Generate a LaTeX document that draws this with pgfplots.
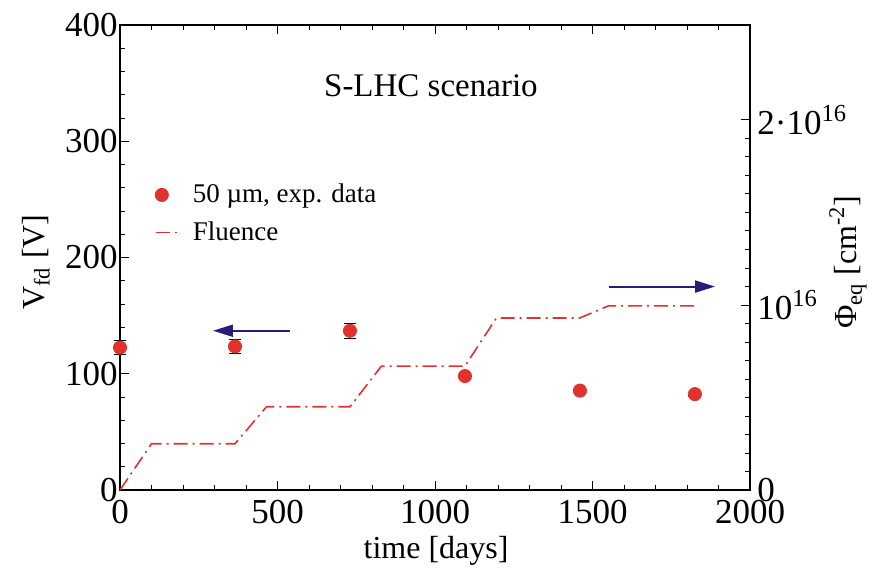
\documentclass[border=0pt]{standalone}
\usepackage{pgfplots}
\pgfplotsset{compat=1.18}
\usepackage{fontspec}
\setmainfont{Liberation Serif}
\usetikzlibrary{arrows.meta}
\definecolor{datared}{RGB}{225,50,45}
\definecolor{navyarrow}{RGB}{40,30,120}
\pgfplotsset{
  common/.style={
    scale only axis, width=315pt, height=232.5pt,
    xmin=0, xmax=2000,
    tick align=inside,
    major tick length=4.5pt, minor tick length=2.5pt,
    axis line style={line width=1pt},
    every tick/.style={black, line width=0.5pt},
    tick label style={font=\fontsize{17.5}{17.5}\selectfont},
    label style={font=\fontsize{16}{16}\selectfont},
    /pgf/number format/assume math mode=true,
    /pgf/number format/1000 sep={},
    scaled ticks=false,
    clip=false,
  },
  shortline legend/.style={legend image code/.code={\draw[##1] (0.19cm,0cm) -- (0.56cm,0cm); \path (0.76cm,0cm);}},
  dot legend/.style={legend image code/.code={\draw[##1, mark repeat=2, mark phase=2] plot coordinates {(0cm,0cm) (0.3cm,0cm) (0.6cm,0cm)}; \path (0.76cm,0cm);}},
}
\begin{document}
\begin{tikzpicture}
\begin{axis}[common,
  ymin=0, ymax=400,
  xtick={0,500,...,2000}, minor x tick num=4,
  ytick={0,100,...,400}, minor y tick num=4,
  ytick pos=left,
  xlabel={time [days]},
  ylabel={V\textsubscript{fd} [V]},
  yticklabel style={inner xsep=1pt, inner ysep=0pt},
  xticklabel style={inner ysep=0pt, yshift=-5pt},
  xlabel style={at={(axis description cs:0.5016,-0.131)}, anchor=center},
  ylabel style={at={(axis description cs:-0.1333,0.49)}, anchor=center},
]
\coordinate (bbsw) at (rel axis cs:-0.1905,-0.1699);
\coordinate (bbne) at (rel axis cs:1.2095,1.0538);
\addplot[only marks, mark=*, mark size=3.3pt, color=datared,
  error bars/.cd, y dir=both, y explicit,
  error bar style={black, line width=0.5pt},
  error mark options={black, rotate=90, mark size=3.2pt, line width=0.5pt}]
  coordinates {
  (0,122.5) +- (0,6)
  (365,123.5) +- (0,6)
  (730,137) +- (0,6.5)
  (1095,98) +- (0,2)
  (1460,85.5) +- (0,2)
  (1825,82.5) +- (0,2)
  };
\node[font=\fontsize{16.5}{16.5}\selectfont] at (axis cs:987,348) {S-LHC scenario};
\draw[navyarrow, line width=1pt, -{Triangle[length=10pt,width=6pt]}] (axis cs:540,137) -- (axis cs:295,137);
\draw[navyarrow, line width=1pt, -{Triangle[length=10pt,width=6pt]}] (axis cs:1553,175) -- (axis cs:1889,175);
\end{axis}
\begin{axis}[common,
  ymin=0, ymax=2.5135,
  axis x line=none,
  axis y line*=right,
  ytick={0,1,2},
  yticklabels={0,10\textsuperscript{16},2·10\textsuperscript{16}},
  minor y tick num=9,
  yticklabel style={inner xsep=3.5pt, inner ysep=0pt},
  ylabel={Φ\textsubscript{eq} [cm\textsuperscript{-2}]},
  ylabel style={at={(axis description cs:1.1556,0.49)}, anchor=center},
  legend style={at={(0.045,0.676)}, anchor=north west, draw=none, fill=none,
    font=\fontsize{13.5}{13.5}\selectfont, row sep=4pt},
  legend cell align=left,
]
\addlegendimage{only marks, mark=*, mark size=3.3pt, color=datared, dot legend}
\addlegendentry{50 µm, exp. data}
\addplot[datared, line width=0.8pt, dash pattern=on 7pt off 2.5pt on 1pt off 2.5pt,
  shortline legend]
  coordinates {
  (0,0) (100,0.25) (365,0.25) (465,0.45) (730,0.45) (830,0.67)
  (1095,0.67) (1195,0.93) (1460,0.93) (1550,0.995) (1825,0.995)
  };
\addlegendentry{Fluence}
\end{axis}
\pgfresetboundingbox
\useasboundingbox (bbsw) rectangle (bbne);
\end{tikzpicture}
\end{document}
